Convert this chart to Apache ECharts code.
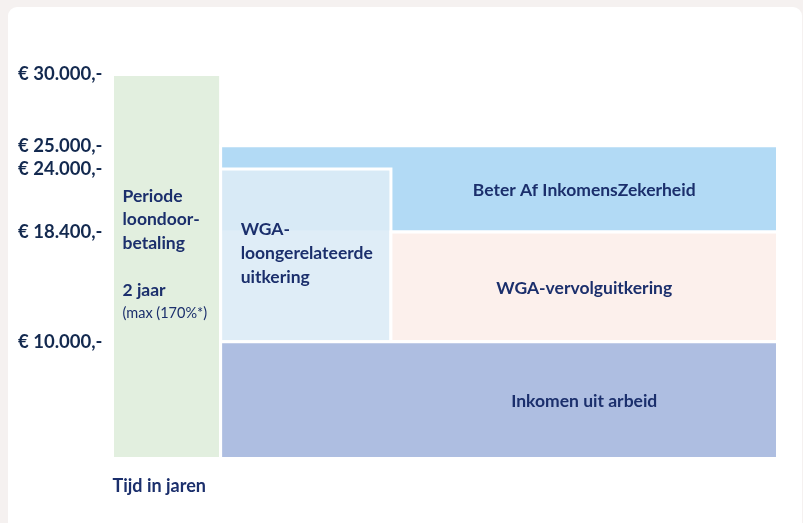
<!DOCTYPE html>
<html>
<head>
<meta charset="utf-8">
<script src="https://cdn.jsdelivr.net/npm/echarts@6/dist/echarts.min.js"></script>
<style>
html,body{margin:0;padding:0;background:#f5f1f0;overflow:hidden;}
#card{position:absolute;left:8px;top:7px;width:794px;height:530px;background:#ffffff;border-radius:9px;}
#chart{position:absolute;left:0;top:0;width:803px;height:523px;}
</style>
</head>
<body>
<div id="card"></div>
<div id="chart"></div>
<script>
// ---- data ----
const yTickValues = [10000, 18400, 24000, 25000, 30000];
const blockNames = ['Periode loondoorbetaling', 'Beter Af InkomensZekerheid', 'WGA-loongerelateerde uitkering', 'WGA-vervolguitkering', 'Inkomen uit arbeid'];
const blockYearFrom = [0, 2, 2, 5.15, 2];
const blockYearTo = [2, 12.3, 5.15, 12.3, 12.3];
const blockEuroFrom = [0, 18400, 10000, 10000, 0];
const blockEuroTo = [30000, 25000, 24000, 18400, 10000];
const loondoorLines = ['Periode', 'loondoor-', 'betaling'];
const loondoorDuration = '2 jaar';
const loondoorNote = '(max (170%*)';
const wgaLoonLines = ['WGA-', 'loongerelateerde', 'uitkering'];
const xAxisName = 'Tijd in jaren';

// ---- axis layout: the original is a schematic, not to scale; hidden breaks reproduce its spacing ----
const yBreaks = [
  { start: 2500, end: 7500, gap: 0 },
  { start: 12400, end: 16100, gap: 0 },
  { start: 19700, end: 22600, gap: 0 },
  { start: 26500, end: 28450, gap: 0 }
];

// ---- styles ----
const blockColors = ['#e2efdf', '#b2daf5', 'rgba(220,235,246,0.9)', '#fcf0ec', '#aebee1'];
const textColor = '#1b2f6c';
const axisTextColor = '#13294f';
const fontFamily = 'Lato, "Noto Sans", sans-serif';

function euro(v) {
  return '€ ' + String(v).replace(/\B(?=(\d{3})+(?!\d))/g, '.') + ',-';
}

const seriesData = blockNames.map((n, i) => ({
  name: n,
  value: [blockYearFrom[i], blockYearTo[i], blockEuroFrom[i], blockEuroTo[i]]
}));

// labels of the right-hand blocks are centred over the follow-up period
const rightLabelYear = (blockYearFrom[3] + blockYearTo[3]) / 2;

function renderItem(params, api) {
  const i = params.dataIndex;
  const cs = params.coordSys;
  const tl = api.coord([api.value(0), api.value(3)]);
  const br = api.coord([api.value(1), api.value(2)]);
  const x0 = Math.max(tl[0], cs.x), x1 = Math.min(br[0], cs.x + cs.width);
  const y0 = Math.max(tl[1], cs.y), y1 = Math.min(br[1], cs.y + cs.height);
  const children = [{
    type: 'rect',
    shape: { x: x0, y: y0, width: x1 - x0, height: y1 - y0 },
    style: { fill: blockColors[i], stroke: '#ffffff', lineWidth: 3 }
  }];
  const cy = (y0 + y1) / 2;
  let text;
  if (i === 0) {
    text = {
      type: 'text',
      style: {
        x: x0 + 10, y: cy - 12,
        text: loondoorLines.map(l => '{b|' + l + '}').join('\n') + '\n{g| }\n{b|' + loondoorDuration + '}\n{s|' + loondoorNote + '}',
        align: 'left', verticalAlign: 'middle',
        rich: {
          b: { fontFamily, fontWeight: 'bold', fontSize: 17.5, lineHeight: 23.5, fill: textColor, color: textColor },
          g: { fontSize: 10, lineHeight: 23.5 },
          s: { fontFamily, fontWeight: 'normal', fontSize: 14.5, lineHeight: 23, fill: textColor, color: textColor }
        }
      }
    };
  } else if (i === 2) {
    text = {
      type: 'text',
      style: {
        x: x0 + 20, y: cy - 2,
        text: wgaLoonLines.join('\n'),
        align: 'left', verticalAlign: 'middle',
        fontFamily, fontWeight: 'bold', fontSize: 17.5, lineHeight: 24, fill: textColor
      }
    };
  } else {
    const cx = api.coord([rightLabelYear, 0])[0];
    text = {
      type: 'text',
      style: {
        x: cx, y: cy + 1,
        text: blockNames[i],
        align: 'center', verticalAlign: 'middle',
        fontFamily, fontWeight: 'bold', fontSize: 17.5, fill: textColor
      }
    };
  }
  children.push(text);
  return { type: 'group', children };
}

const chart = echarts.init(document.getElementById('chart'), null, { renderer: 'canvas' });
chart.setOption({
  backgroundColor: 'transparent',
  animation: false,
  grid: { left: 112.5, right: 25.5, top: 74.5, bottom: 64.5 },
  xAxis: {
    type: 'value', min: 0, max: 12.3,
    axisLine: { show: false }, axisTick: { show: false }, axisLabel: { show: false }, splitLine: { show: false },
    name: xAxisName, nameLocation: 'start', nameGap: 0,
    nameTextStyle: { align: 'left', verticalAlign: 'top', padding: [19, 0, 0, 0], fontFamily, fontWeight: 'bold', fontSize: 18, color: textColor }
  },
  yAxis: {
    type: 'value', min: 0, max: 30000,
    breaks: yBreaks,
    breakArea: { show: false },
    axisLine: { show: false }, axisTick: { show: false }, splitLine: { show: false },
    axisLabel: {
      customValues: yTickValues,
      formatter: euro,
      align: 'left', margin: 94.5,
      fontFamily, fontWeight: 'bold', fontSize: 18.5, color: axisTextColor
    }
  },
  series: [{
    type: 'custom',
    renderItem,
    encode: { x: [0, 1], y: [2, 3] },
    data: seriesData
  }]
});
</script>
</body>
</html>
